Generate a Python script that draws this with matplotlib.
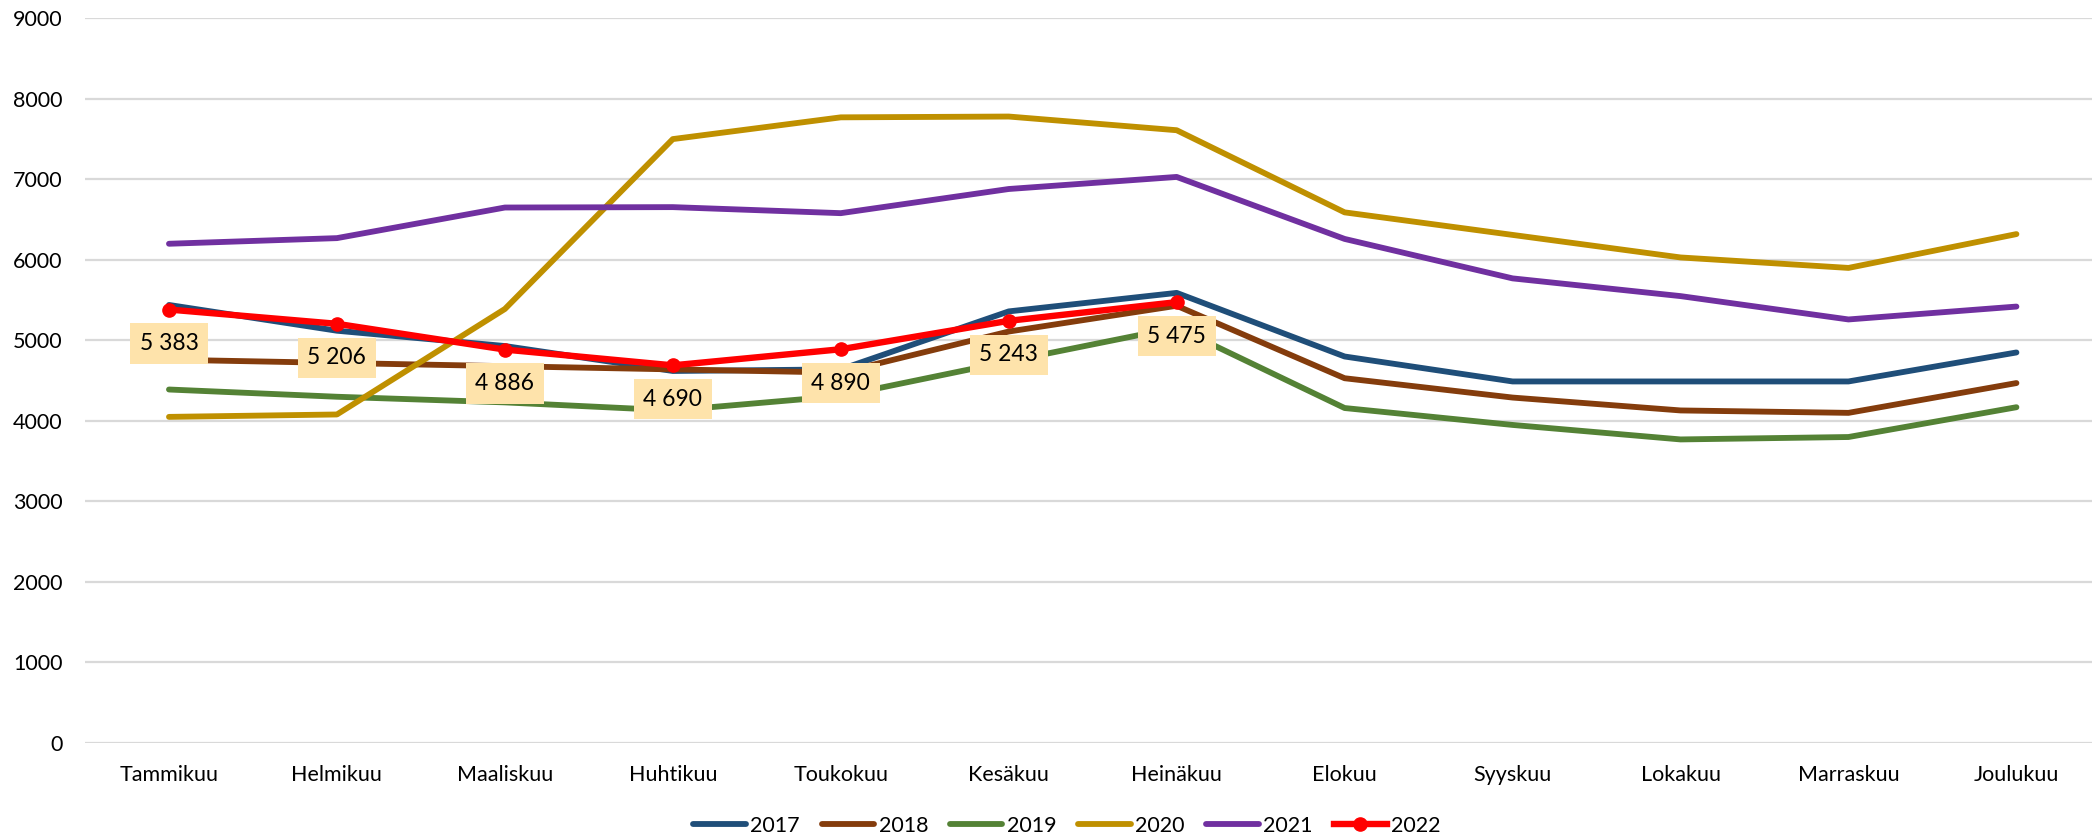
import matplotlib
matplotlib.use("Agg")
import matplotlib.pyplot as plt

plt.rcParams['font.family'] = ['Lato', 'DejaVu Sans']

# === Data
kuukaudet = ['Tammikuu', 'Helmikuu', 'Maaliskuu', 'Huhtikuu', 'Toukokuu', 'Kesäkuu',
             'Heinäkuu', 'Elokuu', 'Syyskuu', 'Lokakuu', 'Marraskuu', 'Joulukuu']

v2017 = [5440, 5120, 4930, 4620, 4640, 5360, 5590, 4800, 4490, 4490, 4490, 4850]
v2018 = [4760, 4720, 4680, 4640, 4600, 5110, 5430, 4530, 4290, 4130, 4100, 4470]
v2019 = [4390, 4300, 4230, 4130, 4310, 4740, 5160, 4160, 3950, 3770, 3800, 4170]
v2020 = [4050, 4080, 5390, 7500, 7770, 7780, 7610, 6590, 6310, 6030, 5900, 6320]
v2021 = [6200, 6270, 6650, 6655, 6580, 6880, 7030, 6260, 5770, 5550, 5260, 5420]
v2022 = [5383, 5206, 4886, 4690, 4890, 5243, 5475]

vuodet = ['2017', '2018', '2019', '2020', '2021']
sarjat = [v2017, v2018, v2019, v2020, v2021]
varit = ['#1F4E79', '#843C0C', '#548235', '#BF9000', '#7030A0']

# === Figure
fig = plt.figure(figsize=(20.92, 8.39), dpi=100)
ax = fig.add_axes([85 / 2092, 1 - 743 / 839, 1 - 85 / 2092, (743 - 18.3) / 839])

x = list(range(len(kuukaudet)))
for nimi, arvot, vari in zip(vuodet, sarjat, varit):
    ax.plot(x, arvot, color=vari, lw=4.2, label=nimi, solid_capstyle='round', zorder=2)

x22 = list(range(len(v2022)))
ax.plot(x22, v2022, color='#FF0000', lw=4.6, marker='o', ms=9.5, label='2022', zorder=3)

for xi, v in zip(x22, v2022):
    ax.annotate(f"{v:,}".replace(",", " "), (xi, v), xytext=(0, -34), textcoords='offset pixels',
                ha='center', va='center', fontsize=16.5, color='black', zorder=5,
                bbox=dict(boxstyle='square,pad=0.42', fc='#FEE3AB', ec='none'))

ax.set_ylim(0, 9000)
ax.set_xlim(-0.5, 11.45)
ax.set_yticks(range(0, 9001, 1000))
ax.set_xticks(x)
ax.set_xticklabels(kuukaudet)
ax.grid(axis='y', color='#D9D9D9', lw=1.6)
ax.set_axisbelow(True)
for s in ax.spines.values():
    s.set_visible(False)
ax.tick_params(axis='both', length=0, labelsize=15.5, colors='black')
ax.tick_params(axis='y', pad=16)
ax.tick_params(axis='x', pad=16)

fig.legend(loc='center', bbox_to_anchor=(0.51, 0.016), ncol=6, frameon=False,
           fontsize=15.5, handlelength=2.45, handletextpad=0.2, columnspacing=1.0)

fig.savefig('out.png', dpi=100)
